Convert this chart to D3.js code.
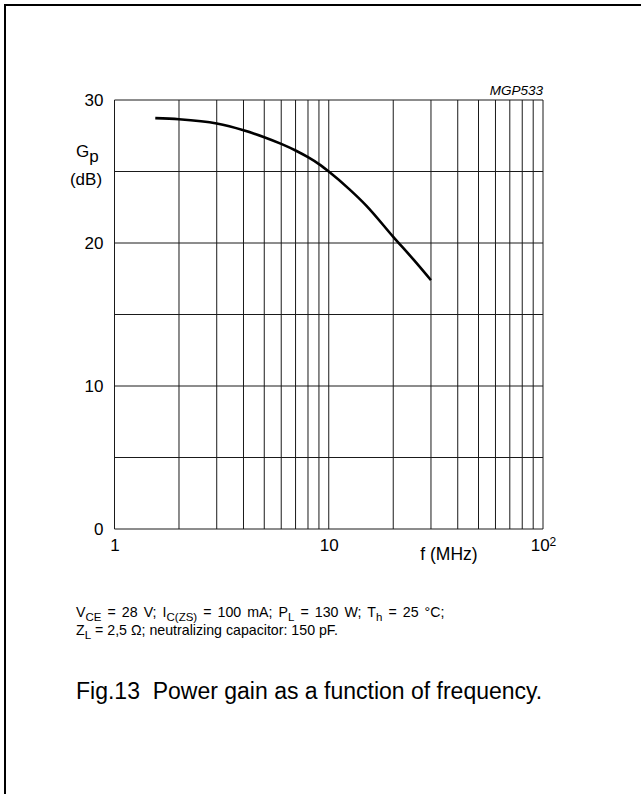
<!DOCTYPE html>
<html>
<head>
<meta charset="utf-8">
<script src="https://cdn.jsdelivr.net/npm/d3@7"></script>
<style>
  html, body { margin: 0; padding: 0; background: #fff; overflow: hidden; }
  svg { display: block; }
  text { font-family: "Liberation Sans", Arial, Helvetica, sans-serif; fill: #000; }
</style>
</head>
<body>
<svg id="chart" width="641" height="794"></svg>
<script>
// Power gain vs frequency (curve values in dB, frequency in MHz)
const freqMHz = [1.55, 2, 3, 4, 5, 6, 7, 8, 9, 10, 12.5, 15, 20, 25, 30];
const gainDb  = [28.73, 28.65, 28.35, 27.88, 27.4, 26.93, 26.47, 26.0, 25.52, 25.0, 23.75, 22.6, 20.43, 18.8, 17.4];

// Axis ticks
const xTickValues = [1, 10, 100];
const yTickValues = [0, 10, 20, 30];
const xGridValues = [1, 2, 3, 4, 5, 6, 7, 8, 9, 10, 20, 30, 40, 50, 60, 70, 80, 90, 100];
const yGridValues = [0, 5, 10, 15, 20, 25, 30];

const svg = d3.select("#chart");

// Page frame (top and left edges)
svg.append("line").attr("x1", 4).attr("y1", 5).attr("x2", 641).attr("y2", 5)
  .attr("stroke", "#000").attr("stroke-width", 2);
svg.append("line").attr("x1", 5).attr("y1", 4).attr("x2", 5).attr("y2", 794)
  .attr("stroke", "#000").attr("stroke-width", 2);

const plot = { left: 114.5, right: 543, top: 100, bottom: 529 };

const x = d3.scaleLog().domain([1, 100]).range([plot.left, plot.right]);
const y = d3.scaleLinear().domain([0, 30]).range([plot.bottom, plot.top]);

// Grid
const grid = svg.append("g").attr("stroke", "#1a1a1a").attr("stroke-width", 1).attr("fill", "none");
grid.selectAll("line.v").data(xGridValues).join("line")
  .attr("class", "v")
  .attr("x1", d => x(d)).attr("x2", d => x(d))
  .attr("y1", y(0)).attr("y2", y(30));
grid.selectAll("line.h").data(yGridValues).join("line")
  .attr("class", "h")
  .attr("x1", x(1)).attr("x2", x(100))
  .attr("y1", d => y(d)).attr("y2", d => y(d));

// Y axis labels
const yAxis = d3.axisLeft(y).tickValues(yTickValues).tickSize(0).tickPadding(11)
  .tickFormat(d3.format("d"));
const gy = svg.append("g").attr("transform", `translate(${plot.left},0)`).call(yAxis);
gy.select(".domain").remove();
gy.selectAll("text").attr("font-size", 17).attr("font-family", null).style("fill", "#000");

// X axis labels
const xAxis = d3.axisBottom(x).tickValues(xTickValues).tickSize(0).tickPadding(10)
  .tickFormat(d => d === 100 ? "" : String(d));
const gx = svg.append("g").attr("transform", `translate(0,${plot.bottom})`).call(xAxis);
gx.select(".domain").remove();
gx.selectAll("text").attr("font-size", 17).attr("font-family", null).style("fill", "#000");
gx.selectAll(".tick").filter(d => d === 100).select("text")
  .call(t => {
    t.append("tspan").text("10");
    t.append("tspan").attr("dy", "-0.45em").attr("font-size", 12).text("2");
  });

// Axis titles
const yTitle = svg.append("text").attr("x", 76).attr("y", 157).attr("font-size", 17);
yTitle.append("tspan").text("G");
yTitle.append("tspan").attr("dy", 5).text("p");
svg.append("text").attr("x", 86).attr("y", 185).attr("text-anchor", "middle")
  .attr("font-size", 17).text("(dB)");
svg.append("text").attr("x", 449).attr("y", 560).attr("text-anchor", "middle")
  .attr("font-size", 17.5).text("f (MHz)");

// Figure code
svg.append("text").attr("x", plot.right).attr("y", 95).attr("text-anchor", "end")
  .attr("font-size", 13.5).attr("font-style", "italic").text("MGP533");

// Gain curve
const pts = freqMHz.map((f, i) => [x(f), y(gainDb[i])]);
svg.append("path").datum(pts)
  .attr("fill", "none").attr("stroke", "#000").attr("stroke-width", 2.6)
  .attr("stroke-linejoin", "round").attr("stroke-linecap", "butt")
  .attr("d", d3.line().curve(d3.curveMonotoneX));

// Measurement conditions (text runs with subscripts)
function richText(parent, parts) {
  let shift = 0;
  parts.forEach(p => {
    const target = p.sub ? 3.5 : 0;
    const ts = parent.append("tspan").attr("dy", target - shift).text(p.sub || p.t);
    if (p.sub) ts.attr("font-size", 11.5);
    shift = target;
  });
}
// first line of the justified note block is stretched between its words
const cond1 = svg.append("text").attr("x", 76).attr("y", 617).attr("font-size", 14.2)
  .style("word-spacing", "2.1px");
richText(cond1, [
  { t: "V" }, { sub: "CE" }, { t: " = 28 V; I" }, { sub: "C(ZS)" },
  { t: " = 100 mA; P" }, { sub: "L" }, { t: " = 130 W; T" }, { sub: "h" }, { t: " = 25 °C;" }
]);
const cond2 = svg.append("text").attr("x", 76).attr("y", 635).attr("font-size", 14.2);
richText(cond2, [
  { t: "Z" }, { sub: "L" }, { t: " = 2,5 Ω; neutralizing capacitor: 150 pF." }
]);

// Caption
svg.append("text").attr("x", 76).attr("y", 699).attr("font-size", 23)
  .attr("xml:space", "preserve").style("white-space", "pre")
  .text("Fig.13  Power gain as a function of frequency.");
</script>
</body>
</html>
